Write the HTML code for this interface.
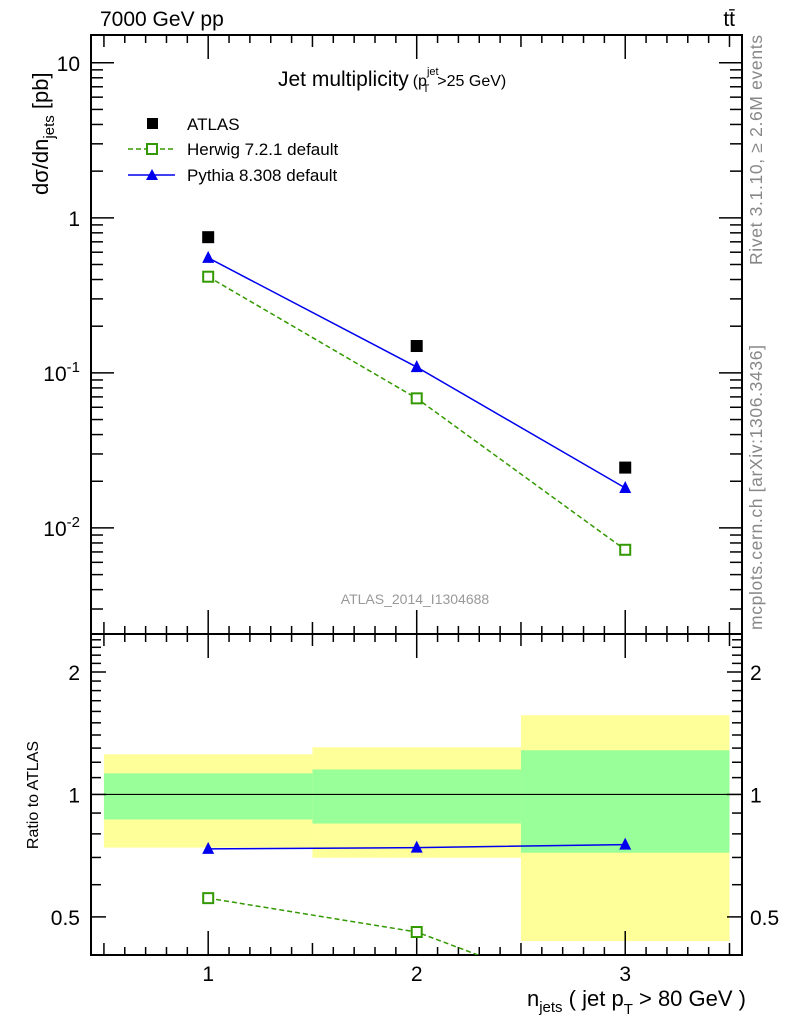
<!DOCTYPE html>
<html><head><meta charset="utf-8"><style>
html,body{margin:0;padding:0;background:#fff;width:786px;height:1024px;overflow:hidden}
svg{display:block;font-family:"Liberation Sans",sans-serif}
</style></head><body>
<svg id="chart" width="786" height="1024">
</svg>
<script>
const categories=[1,2,3];
const binEdges=[0.5,1.5,2.5,3.5];
const atlasValues=[0.75,0.149,0.0245];
const herwigValues=[0.417,0.0685,0.00723];
const pythiaValues=[0.552,0.109,0.0181];
const herwigRatio=[0.556,0.459,0.295];
const pythiaRatio=[0.735,0.74,0.753];
const pythiaRatioErr=[0.005,0.006,0.02];
const yellowUp=[1.255,1.306,1.566];
const yellowDn=[0.74,0.699,0.436];
const greenUp=[1.127,1.152,1.284];
const greenDn=[0.868,0.848,0.719];
const mainTicks=[10,1,0.1,0.01];
const mainTickLabels=["10","1","10^-1","10^-2"];
const ratioTicks=[2,1,0.5];
const ratioTickLabels=["2","1","0.5"];
const xTickLabels=["1","2","3"];

const NS="http://www.w3.org/2000/svg";
const svg=document.getElementById('chart');
const L=91,R=742,T=35,MB=634,RB=955;
const xmin=0.438,xmax=3.56;
const X=v=>L+(v-xmin)/(xmax-xmin)*(R-L);
const ymTop=Math.log10(15.1),ymBot=Math.log10(0.00207);
const YM=v=>T+(ymTop-Math.log10(v))/(ymTop-ymBot)*(MB-T);
const yrTop=Math.log10(2.48),yrBot=Math.log10(0.403);
const YR=v=>MB+(yrTop-Math.log10(v))/(yrTop-yrBot)*(RB-MB);
function el(tag,attrs,parent){const e=document.createElementNS(NS,tag);for(const k in attrs)e.setAttribute(k,attrs[k]);(parent||svg).appendChild(e);return e;}
function txt(x,y,s,attrs){const t=el('text',Object.assign({x:x,y:y},attrs||{}));t.textContent=s;return t;}

const bands=el('g',{});


for(let i=0;i<categories.length;i++){
  const x0=X(binEdges[i]),x1=X(binEdges[i+1]);
  const y=el('rect',{x:x0,y:YR(yellowUp[i]),width:x1-x0,height:YR(yellowDn[i])-YR(yellowUp[i]),fill:'#ffff99'},bands);
  
  
  const g=el('rect',{x:x0,y:YR(greenUp[i]),width:x1-x0,height:YR(greenDn[i])-YR(greenUp[i]),fill:'#99ff99'},bands);
  
  
}
const one=el('line',{x1:L,x2:R,y1:YR(1),y2:YR(1),stroke:'#000','stroke-width':1.2});



const f1=el('rect',{x:L,y:T,width:R-L,height:MB-T,fill:'none',stroke:'#000','stroke-width':2});


const f2=el('rect',{x:L,y:MB,width:R-L,height:RB-MB,fill:'none',stroke:'#000','stroke-width':2});



const ax=el('g',{stroke:'#000','stroke-width':1.5});


for(let v=0.5;v<=3.51;v+=0.1){
  const major=Math.abs(v-Math.round(v))<0.01;
  const half=Math.abs(v*2-Math.round(v*2))<0.01;
  const len=major?24:(half?12:8);
  const x=X(v);
  if(x<L||x>R)continue;
  [[T,1],[MB,-1],[MB,1],[RB,-1]].forEach(([y0,d])=>el('line',{x1:x,x2:x,y1:y0,y2:y0+d*len},ax));
}
const ay=el('g',{stroke:'#000','stroke-width':1.5});


for(let e=-3;e<=1;e++)for(let m=1;m<10;m++){
  const v=m*Math.pow(10,e);const y=YM(v);if(y<T||y>MB)continue;
  const len=m===1?23:12;
  el('line',{x1:L,x2:L+len,y1:y,y2:y},ay);el('line',{x1:R,x2:R-len,y1:y,y2:y},ay);
}
for(let v=0.4;v<=2.5;v+=0.1){
  const y=YR(v);if(y<MB||y>RB)continue;
  const maj=[0.5,1,2].some(a=>Math.abs(a-v)<0.01);const len=maj?15:10;
  el('line',{x1:L,x2:L+len,y1:y,y2:y},ay);el('line',{x1:R,x2:R-len,y1:y,y2:y},ay);
}
mainTicks.forEach((v,i)=>{
  const s=mainTickLabels[i];let t;
  if(s.indexOf('^')>0){const p=s.split('^');t=txt(80,YM(v)+8,'',{'font-size':21,'text-anchor':'end'});
    const a=el('tspan',{},t);a.textContent=p[0];const b=el('tspan',{dy:-9,'font-size':15},t);b.textContent=p[1];}
  else t=txt(80,YM(v)+8,s,{'font-size':21,'text-anchor':'end'});
  
  
});
ratioTicks.forEach((v,i)=>{
  const a=txt(80,YR(v)+8,ratioTickLabels[i],{'font-size':21,'text-anchor':'end'});
  
  
  const b=txt(750,YR(v)+8,ratioTickLabels[i],{'font-size':21});
  
  
});
categories.forEach((c,i)=>{
  const t=txt(X(c),981,xTickLabels[i],{'font-size':21,'text-anchor':'middle'});
  
  
});

function series(vals,yf,color,dash,marker,name){
  const g=el('g',{});
  
  
  if(dash!==null){
    const pts=vals.map((v,i)=>X(categories[i])+','+yf(v)).join(' ');
    el('polyline',{points:pts,fill:'none',stroke:color,'stroke-width':1.5,'stroke-dasharray':dash},g);
  }
  vals.forEach((v,i)=>{
    const x=X(categories[i]),y=yf(v);
    if(y>RB+5)return;
    let m;
    if(marker==='sq')m=el('rect',{x:x-6,y:y-6,width:12,height:12,fill:color},g);
    else if(marker==='osq')m=el('rect',{x:x-5,y:y-5,width:10,height:10,fill:'#fff',stroke:color,'stroke-width':2},g);
    else m=el('polygon',{points:`${x-6},${y+5} ${x+6},${y+5} ${x},${y-7}`,fill:color},g);
    
    
  });
  return g;
}
series(herwigValues,YM,'#339900','5,3','osq','herwig-series');
series(pythiaValues,YM,'#0000ee','','tri','pythia-series');
series(atlasValues,YM,'#000',null,'sq','atlas-data');

const cpth=el('clipPath',{id:'rc'});
el('rect',{x:L,y:MB,width:R-L,height:RB-MB},cpth);
const hr=series(herwigRatio,YR,'#339900','5,3','osq','herwig-ratio');hr.setAttribute('clip-path','url(#rc)');
const pr=series(pythiaRatio,YR,'#0000ee','','tri','pythia-ratio');
pythiaRatio.forEach((v,i)=>{
  const x=X(categories[i]);
  const e=el('line',{x1:x,x2:x,y1:YR(v+pythiaRatioErr[i]),y2:YR(v-pythiaRatioErr[i]),stroke:'#0000ee','stroke-width':1.5},pr);
  
  
});

const lg=el('g',{'font-size':17});


el('rect',{x:147,y:118,width:11,height:11,fill:'#000'},lg);
[['ATLAS',130],['Herwig 7.2.1 default',155],['Pythia 8.308 default',181]].forEach(([s,y])=>{const t=txt(187,y,s,{'font-size':17});lg.appendChild(t);});
el('line',{x1:128,x2:175,y1:149,y2:149,stroke:'#339900','stroke-width':1.5,'stroke-dasharray':'5,3'},lg);
el('rect',{x:147,y:144,width:10,height:10,fill:'#fff',stroke:'#339900','stroke-width':2},lg);
el('line',{x1:128,x2:175,y1:175,y2:175,stroke:'#0000ee','stroke-width':1.5},lg);
el('polygon',{points:'146,180 158,180 152,169',fill:'#0000ee'},lg);

function addT(x,y,s,a,name){const t=txt(x,y,s,a);return t;}
addT(100,26,'7000 GeV pp',{'font-size':21},'energy-label');
addT(735,26,'tt̄',{'font-size':21,'text-anchor':'end'},'process-label');
const pt=addT(278,86,'Jet multiplicity',{'font-size':21},'plot-title');
const s1=el('tspan',{'font-size':16,dx:4},pt);s1.textContent='(p';
const s2=el('tspan',{'font-size':11,dy:-11},pt);s2.textContent='jet';
const s3=el('tspan',{'font-size':11,dx:-16,dy:17},pt);s3.textContent='T';
const s4=el('tspan',{'font-size':16,dx:8,dy:-6},pt);s4.textContent='>25 GeV)';
addT(415,604,'ATLAS_2014_I1304688',{'font-size':14,fill:'#999','text-anchor':'middle'},'analysis-id');
const yt=addT(0,0,'dσ/dn',{'font-size':22,transform:'translate(48,195) rotate(-90)'},'y-axis-title');
const y1=el('tspan',{'font-size':15,dy:6},yt);y1.textContent='jets';
const y2=el('tspan',{dy:-6},yt);y2.textContent=' [pb]';
addT(0,0,'Ratio to ATLAS',{'font-size':16,'text-anchor':'middle',transform:'translate(38,795) rotate(-90)'},'ratio-y-axis-title');
const xt=addT(746,1006,'',{'font-size':22,'text-anchor':'end'},'x-axis-title');
[['n',0,22],['jets',6,15],[' ( jet p',-6,22],['T',8,15],[' > 80 GeV )',-8,22]].forEach(([s,dy,fs])=>{const t=el('tspan',{dy:dy,'font-size':fs},xt);t.textContent=s;});
addT(0,0,'Rivet 3.1.10, ≥ 2.6M events',{'font-size':17.5,fill:'#888','textLength':230,transform:'translate(762,265) rotate(-90)'},'rivet-version-label');
addT(0,0,'mcplots.cern.ch [arXiv:1306.3436]',{'font-size':17.5,fill:'#888','textLength':285,transform:'translate(762,630) rotate(-90)'},'mcplots-label');
</script>
</body></html>
